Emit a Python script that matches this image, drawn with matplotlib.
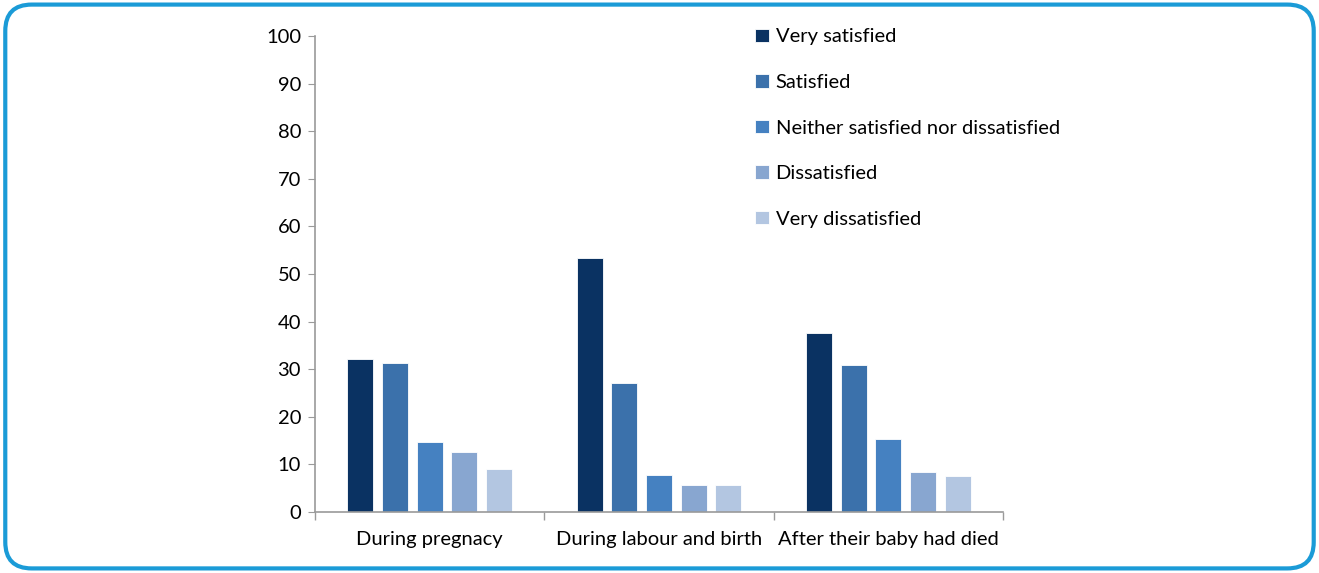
import matplotlib.pyplot as plt
from matplotlib.patches import FancyBboxPatch
import numpy as np

plt.rcParams['font.family'] = ['Lato', 'DejaVu Sans']

categories = ["During pregnacy", "During labour and birth", "After their baby had died"]
series = ["Very satisfied", "Satisfied", "Neither satisfied nor dissatisfied",
          "Dissatisfied", "Very dissatisfied"]
values = [
    [32.1, 53.3, 37.5],
    [31.2, 27.2, 30.8],
    [14.6, 7.8, 15.3],
    [12.7, 5.7, 8.5],
    [9.0, 5.7, 7.6],
]
colors = ["#0a3262", "#3b71ab", "#4581c1", "#88a6d0", "#b3c6e1"]

fig = plt.figure(figsize=(13.19, 5.73), dpi=100)
ax = fig.add_axes([0.2388, 0.1065, 0.5216, 0.8307])

x = np.arange(len(categories))
pitch = 0.151
width = 0.113
for i, (name, vals) in enumerate(zip(series, values)):
    ax.bar(x + (i - 2) * pitch, vals, width, color=colors[i], label=name,
           edgecolor="white", linewidth=0.6)

ax.set_xlim(-0.5, 2.5)
ax.set_ylim(0, 100)
ax.set_yticks(range(0, 101, 10))
ax.set_xticks(x)
ax.set_xticklabels(categories, fontsize=14.5)
ax.tick_params(axis='x', length=0, pad=14)
ax.set_xticks([-0.5, 0.5, 1.5, 2.5], minor=True)
ax.tick_params(axis='x', which='minor', length=6, color='#9a9a9a', width=1)
ax.tick_params(axis='y', labelsize=14.5, length=5, color='#9a9a9a', pad=5)
for s in ['top', 'right']:
    ax.spines[s].set_visible(False)
for s in ['left', 'bottom']:
    ax.spines[s].set_color('#9a9a9a')
    ax.spines[s].set_linewidth(1.2)

leg = fig.legend(loc='upper left', bbox_to_anchor=(0.559, 0.982), frameon=False,
                 fontsize=14.5, handlelength=0.65, handleheight=0.65, handletextpad=0.35,
                 labelspacing=1.42)

border = FancyBboxPatch((0.004, 0.008), 0.992, 0.984,
                        boxstyle="round,pad=0,rounding_size=0.02",
                        transform=fig.transFigure, fill=False,
                        edgecolor="#1b9bd7", linewidth=3, mutation_aspect=1319 / 573)
fig.patches.append(border)

fig.savefig("out.png", dpi=100)
